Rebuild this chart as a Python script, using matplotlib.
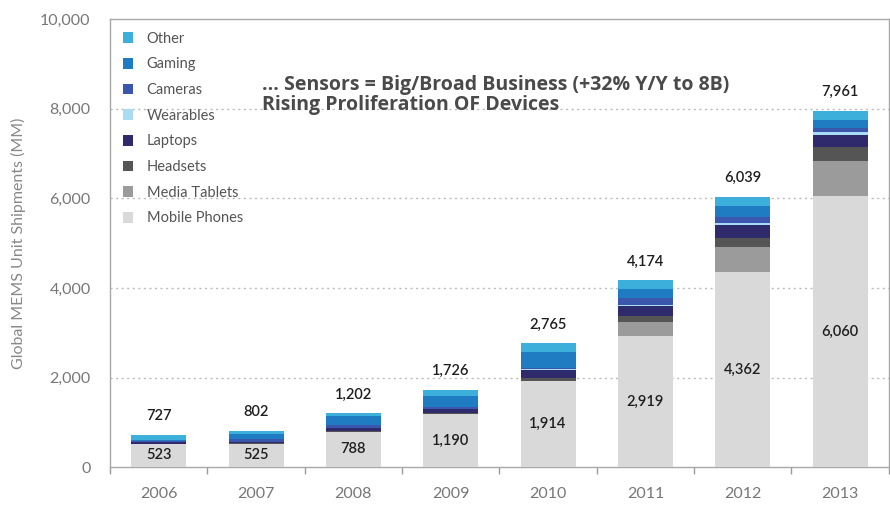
import matplotlib
matplotlib.use("Agg")
import matplotlib.pyplot as plt
from matplotlib.patches import Patch
from matplotlib.ticker import FuncFormatter, MultipleLocator
import numpy as np

# Data (MM units)
years = ["2006", "2007", "2008", "2009", "2010", "2011", "2012", "2013"]
mobile_phones = [523, 525, 788, 1190, 1914, 2919, 4362, 6060]
media_tablets = [0, 0, 0, 0, 14, 316, 557, 768]
headsets = [0, 20, 29, 22, 68, 130, 200, 329]
laptops = [30, 27, 56, 89, 166, 231, 285, 256]
wearables = [0, 0, 0, 0, 23, 22, 50, 58]
cameras = [32, 46, 70, 48, 30, 159, 128, 110]
gaming = [30, 112, 196, 240, 354, 202, 243, 161]
other = [112, 72, 63, 137, 196, 195, 214, 219]
totals = [727, 802, 1202, 1726, 2765, 4174, 6039, 7961]

series_names = ["Mobile Phones", "Media Tablets", "Headsets", "Laptops",
                "Wearables", "Cameras", "Gaming", "Other"]
series_values = [mobile_phones, media_tablets, headsets, laptops,
                 wearables, cameras, gaming, other]
colors = ["#d9d9d9", "#9b9b9b", "#555555", "#2f2a6b",
          "#a8dcf2", "#3b57ad", "#1f7cc2", "#3cb0da"]

plt.rcParams['font.family'] = ['Lato', 'DejaVu Sans']

fig = plt.figure(figsize=(8.9, 5.05), dpi=100)
ax = fig.add_axes([0.1236, 0.075, 0.875, 0.887])

x = np.arange(len(years))
bottom = np.zeros(len(years))
for name, vals, col in zip(series_names, series_values, colors):
    ax.bar(x, vals, 0.565, bottom=bottom, color=col, label=name, zorder=3)
    bottom += np.array(vals)

# total labels above the bars
for xi, t in zip(x, totals):
    ax.annotate(f"{t:,}", (xi, t), xytext=(0, 13.5), textcoords="offset points",
                ha="center", va="center", fontsize=10.5, color="#1e1e1e",
                fontweight="semibold")
# mobile phone labels in the middle of the bottom segment
for xi, m in zip(x, mobile_phones):
    ax.text(xi, m / 2, f"{m:,}", ha="center", va="center", fontsize=10.5,
            color="#1e1e1e", fontweight="semibold", zorder=4)

ax.set_xlim(-0.5, len(years) - 0.5)
ax.set_ylim(0, 10000)
ax.set_xticks(x)
ax.set_xticklabels(years)
ax.set_xticks(np.arange(-0.5, len(years), 1.0), minor=True)
ax.tick_params(axis="x", which="major", length=0, pad=14, labelsize=11.5,
               labelcolor="#777777")
ax.tick_params(axis="x", which="minor", length=5, width=1, color="#9a9a9a",
               direction="out")
ax.yaxis.set_major_locator(MultipleLocator(2000))
ax.yaxis.set_major_formatter(FuncFormatter(lambda v, p: f"{int(v):,}"))
ax.tick_params(axis="y", length=0, pad=14, labelsize=11.5, labelcolor="#777777")
ax.set_ylabel("Global MEMS Unit Shipments (MM)", fontsize=11.5, color="#888888",
              labelpad=10)

for yv in [2000, 4000, 6000, 8000]:
    ax.axhline(yv, color="#bbbbbb", lw=1, ls=(0, (1.5, 2.5)), zorder=1)

for s in ax.spines.values():
    s.set_color("#a8a8a8")
    s.set_linewidth(1)

handles = [Patch(facecolor=c, edgecolor="none", label=n)
           for n, c in zip(series_names[::-1], colors[::-1])]
leg = ax.legend(handles=handles, loc="upper left", bbox_to_anchor=(0.003, 0.995),
                frameon=False, fontsize=10.5, handlelength=0.75, handleheight=0.75,
                handletextpad=0.9, labelspacing=0.8, borderaxespad=0.3)
for t in leg.get_texts():
    t.set_color("#555555")

ax.text(0.195, 0.876, "... Sensors = Big/Broad Business (+32% Y/Y to 8B)\nRising Proliferation OF Devices",
        transform=ax.transAxes, ha="left", va="top", fontsize=14,
        fontweight="bold", color="#4a4a4a", linespacing=1.0,
        family=["Open Sans", "DejaVu Sans"])

fig.savefig("out.png", dpi=100)
